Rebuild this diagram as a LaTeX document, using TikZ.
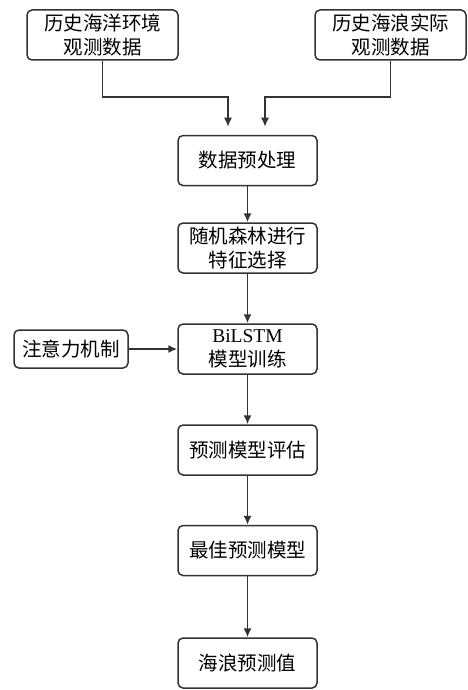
\documentclass[tikz,border=0pt]{standalone}
\usepackage{fontspec}
\setmainfont{Liberation Serif}
\newfontfamily\cjk{Noto Sans CJK SC}
\usetikzlibrary{arrows.meta}
\definecolor{ln}{HTML}{333333}
\tikzset{
  box/.style={draw=ln, line width=1.5pt, rounded corners=5pt, align=center,
    font=\fontsize{19.5}{23.5}\selectfont, inner sep=0pt, fill=white},
  mainbox/.style={box, minimum width=139pt, minimum height=50pt},
  topbox/.style={box, minimum width=151pt, minimum height=50pt},
  arr/.style={draw=ln, line width=1.5pt, -{Latex[length=9pt,width=8pt]}}
}
\begin{document}
\begin{tikzpicture}[x=1pt,y=1pt]
\useasboundingbox (0,0) rectangle (467,-690);
\node[topbox] (A) at (102.5,-35) {\cjk 历史海洋环境\\\cjk 观测数据};
\node[topbox] (B) at (390.5,-35) {\cjk 历史海浪实际\\\cjk 观测数据};
\node[mainbox] (P) at (247.5,-160.5) {\cjk 数据预处理};
\node[mainbox] (R) at (247.5,-248) {\cjk 随机森林进行\\\cjk 特征选择};
\node[mainbox] (L) at (247.5,-349) {BiLSTM\\\cjk 模型训练};
\node[box, minimum width=114pt, minimum height=38pt] (T) at (71,-349) {\cjk 注意力机制};
\node[mainbox] (E) at (247.5,-450) {\cjk 预测模型评估};
\node[mainbox] (M) at (247.5,-550.5) {\cjk 最佳预测模型};
\node[mainbox] (V) at (247.5,-663) {\cjk 海浪预测值};
\coordinate (a1) at (102.5,-97);
\coordinate (a2) at (228,-97);
\coordinate (b1) at (390.5,-97);
\coordinate (b2) at (265,-97);
\draw[arr, shorten >=8pt] (A.south) -- (a1) -- (a2) -- (a2 |- P.north);
\draw[arr, shorten >=8pt] (B.south) -- (b1) -- (b2) -- (b2 |- P.north);
\draw[arr] (P) -- (R);
\draw[arr] (R) -- (L);
\draw[arr] (T) -- (L);
\draw[arr] (L) -- (E);
\draw[arr] (E) -- (M);
\draw[arr] (M) -- (V);
\end{tikzpicture}
\end{document}
